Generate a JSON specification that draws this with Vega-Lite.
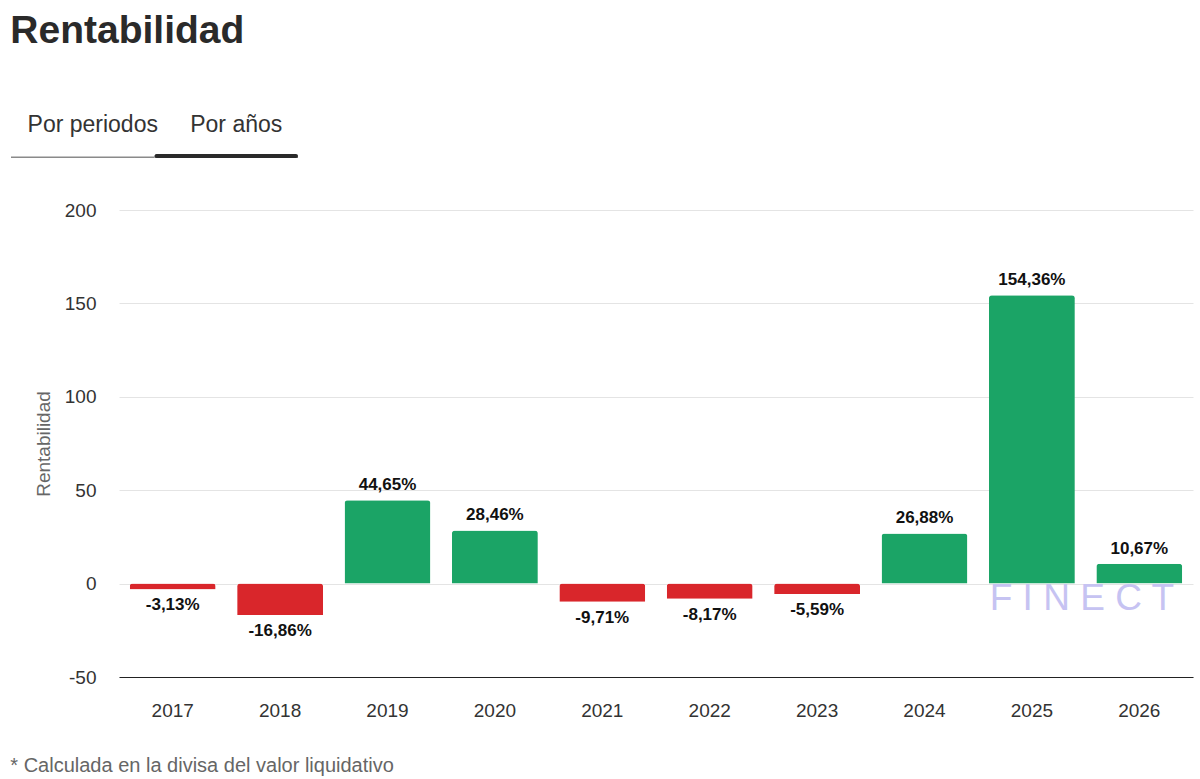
{
  "$schema": "https://vega.github.io/schema/vega-lite/v6.json",
  "background": "white",
  "padding": {"left": 10, "top": 12, "right": 8, "bottom": 0},
  "config": {
    "view": {"stroke": null},
    "font": "Liberation Sans",
    "locale": {"number": {"decimal": ",", "thousands": ".", "grouping": [3], "currency": ["", " €"], "minus": "-"}}
  },
  "title": {"text": "Rentabilidad", "anchor": "start", "fontSize": 39, "fontWeight": 700, "color": "#2a2a2a", "font": "Liberation Sans", "offset": 41},
  "columns": 1,
  "align": "none",
  "spacing": 43,
  "concat": [
    {
      "width": 287,
      "height": 66,
      "data": {"values": [
        {"pestana": "Por periodos", "activa": false},
        {"pestana": "Por años", "activa": true}
      ]},
      "encoding": {
        "x": {"field": "pestana", "type": "nominal", "sort": null,
              "scale": {"paddingInner": 0, "paddingOuter": 0, "range": [-108, 179]},
              "axis": null}
      },
      "layer": [
        {
          "mark": {"type": "text", "fontSize": 23, "color": "#333333", "baseline": "middle", "dx": 10},
          "encoding": {"text": {"field": "pestana"}}
        },
        {
          "mark": {"type": "rect", "color": "#8a8a8a", "y": {"expr": "concat_0_height - 1.5"}, "y2": {"expr": "concat_0_height"}}
        },
        {
          "transform": [{"filter": "datum.activa"}],
          "mark": {"type": "rect", "color": "#2a2a2a", "y": {"expr": "concat_0_height - 4"}, "y2": {"expr": "concat_0_height"}, "cornerRadius": 2},
          "encoding": {"x": {"field": "pestana", "type": "nominal", "sort": null}}
        }
      ]
    },
    {
      "width": 1074,
      "height": 467,
      "title": {"text": "* Calculada en la divisa del valor liquidativo", "orient": "bottom", "anchor": "start", "frame": "bounds", "fontSize": 20, "fontWeight": 400, "color": "#666666", "offset": 36},
      "data": {"values": [
        {"anio": "2017", "rentabilidad": -3.13, "etiqueta": "-3,13%"},
        {"anio": "2018", "rentabilidad": -16.86, "etiqueta": "-16,86%"},
        {"anio": "2019", "rentabilidad": 44.65, "etiqueta": "44,65%"},
        {"anio": "2020", "rentabilidad": 28.46, "etiqueta": "28,46%"},
        {"anio": "2021", "rentabilidad": -9.71, "etiqueta": "-9,71%"},
        {"anio": "2022", "rentabilidad": -8.17, "etiqueta": "-8,17%"},
        {"anio": "2023", "rentabilidad": -5.59, "etiqueta": "-5,59%"},
        {"anio": "2024", "rentabilidad": 26.88, "etiqueta": "26,88%"},
        {"anio": "2025", "rentabilidad": 154.36, "etiqueta": "154,36%"},
        {"anio": "2026", "rentabilidad": 10.67, "etiqueta": "10,67%"}
      ]},
      "encoding": {
        "x": {"field": "anio", "type": "ordinal", "sort": null,
              "scale": {"domain": ["2017", "2018", "2019", "2020", "2021", "2022", "2023", "2024", "2025", "2026"], "paddingInner": 0.2, "paddingOuter": 0.1},
              "axis": {"title": null, "labelAngle": 0, "ticks": false, "domainColor": "#222222", "domainWidth": 1.2, "labelPadding": 24, "labelFontSize": 19, "labelColor": "#333333", "grid": false}},
        "y": {"field": "rentabilidad", "type": "quantitative",
              "scale": {"domain": [-50, 200], "nice": false},
              "axis": {"title": [" ", "Rentabilidad"], "values": [-50, 0, 50, 100, 150, 200], "labelPadding": 23, "ticks": false, "domain": false, "grid": true, "gridColor": "#e4e4e4", "labelFontSize": 19, "labelColor": "#333333", "titleFontSize": 19, "titleColor": "#666666", "titleFontWeight": 400, "titlePadding": 11, "titleLineHeight": 24}}
      },
      "layer": [
        {
          "transform": [{"filter": "datum.anio == '2025'"}],
          "mark": {"type": "text", "text": "F I N E C T", "fontSize": 37, "fill": "#c6c3f2", "align": "center", "baseline": "middle", "dx": 50},
          "encoding": {
            "y": {"datum": -8, "type": "quantitative"}
          }
        },
        {
          "mark": {"type": "bar", "cornerRadiusEnd": 3},
          "encoding": {
            "color": {"condition": {"test": "datum.rentabilidad >= 0", "value": "#1ba466"}, "value": "#d9262b"}
          }
        },
        {
          "transform": [{"filter": "datum.rentabilidad >= 0"}],
          "mark": {"type": "text", "baseline": "bottom", "dy": -6, "fontSize": 17, "fontWeight": 700, "color": "#111111"},
          "encoding": {"text": {"field": "etiqueta"}}
        },
        {
          "transform": [{"filter": "datum.rentabilidad < 0"}],
          "mark": {"type": "text", "baseline": "top", "dy": 8, "fontSize": 17, "fontWeight": 700, "color": "#111111"},
          "encoding": {"text": {"field": "etiqueta"}}
        }
      ]
    }
  ]
}
